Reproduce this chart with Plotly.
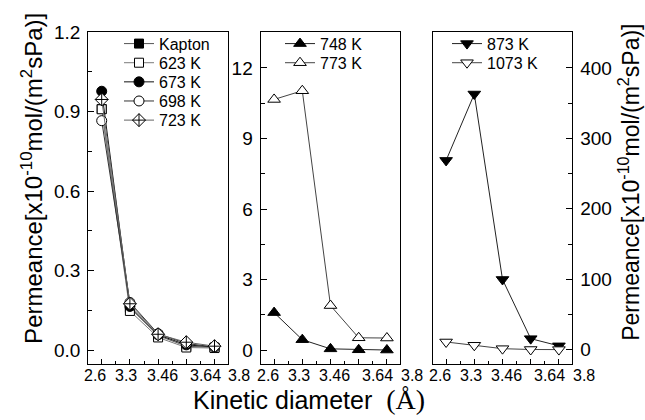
import plotly.graph_objects as go

# Gas order along the kinetic-diameter axis (He, CO2, O2, N2, CH4)
gas_pos = [1, 2, 3, 4, 5]
x_labels = ["2.6", "3.3", "3.46", "3.64", "3.8"]

# Permeance, x10^-10 mol/(m2 s Pa)
kapton = [0.910, 0.160, 0.055, 0.015, 0.010]
k623 = [0.909, 0.148, 0.048, 0.010, 0.008]
k673 = [0.977, 0.165, 0.058, 0.020, 0.012]
k698 = [0.866, 0.180, 0.062, 0.025, 0.012]
k723 = [0.946, 0.175, 0.060, 0.030, 0.015]
k748 = [1.60, 0.45, 0.06, 0.02, 0.01]
k773 = [10.66, 11.03, 1.90, 0.53, 0.52]
k873 = [268.7, 362.9, 99.7, 15.7, 5.5]
k1073 = [11.0, 6.3, 1.5, 0.3, 0.2]

W, H = 645, 420
FONT = "Arial, Liberation Sans, sans-serif"
SERIF = "Times New Roman, Liberation Serif, serif"


def fx(px):
    return px / W


def fy(py):
    return 1 - py / H


panel_left = [88.3, 260.7, 432.7]
panel_w = 139.5
unit = 28.2                  # pixels per gas step
x0 = 0.525
x1 = x0 + panel_w / unit
y_dom = [fy(362.3), fy(22.7)]
# the label row is set as one evenly spaced line of text under each panel
label_pos = [0.773, 1.87, 3.15, 4.67, 5.88]

fig = go.Figure()

series = [
    # name, values, panel, symbol, size, fill, line colour, legend y (px)
    ("Kapton", kapton, 1, "square", 9, "black", "#555555", 42.0),
    ("623 K", k623, 1, "square", 9, "white", "#7a7a7a", 61.6),
    ("673 K", k673, 1, "circle", 10, "black", "#111111", 81.2),
    ("698 K", k698, 1, "circle", 10, "white", "#333333", 100.8),
    ("723 K", k723, 1, "diamond-cross", 10, "white", "#666666", 120.4),
    ("748 K", k748, 2, "triangle-up", 11, "black", "#222222", 42.0),
    ("773 K", k773, 2, "triangle-up", 11, "white", "#444444", 61.6),
    ("873 K", k873, 3, "triangle-down", 11, "black", "#222222", 42.0),
    ("1073 K", k1073, 3, "triangle-down", 11, "white", "#444444", 61.6),
]

legend_x = [119.0, 280.0, 447.0]
legend_shift = -7.5
layout_legends = {}
for i, (name, vals, p, sym, size, fill, lc, ly) in enumerate(series):
    lg = "legend" if i == 0 else f"legend{i + 1}"
    sfx = "" if p == 1 else str(p)
    fig.add_trace(go.Scatter(
        x=gas_pos, y=vals, name=name, mode="lines+markers",
        xaxis="x" + sfx, yaxis="y" + sfx, legend=lg,
        line=dict(color=lc, width=1),
        marker=dict(symbol=sym, size=size, color=fill,
                    line=dict(color="black", width=1)),
        cliponaxis=False,
    ))
    layout_legends[lg] = dict(
        x=fx(legend_x[p - 1]), y=fy(ly + legend_shift),
        xanchor="left", yanchor="middle",
        bgcolor="rgba(0,0,0,0)", borderwidth=0,
        font=dict(family=FONT, size=16, color="black"),
    )

axis_common = dict(showline=True, linecolor="black", linewidth=1.3,
                   mirror=True, showgrid=False, zeroline=False)

y_specs = [
    dict(range=[-0.051, 1.2], tick0=0, dtick=0.3, tickformat=".1f",
         minor=dict(dtick=0.15, ticklen=4, ticks="inside", tickcolor="black"), side="left"),
    dict(range=[-0.57, 13.52], tick0=0, dtick=3,
         minor=dict(dtick=1.5, ticklen=4, ticks="inside", tickcolor="black"), side="left"),
    dict(range=[-19.8, 450.7], tick0=0, dtick=100,
         minor=dict(dtick=50, ticklen=4, ticks="inside", tickcolor="black"), side="right"),
]

layout_axes = {}
annotations = []
for k in range(3):
    sfx = "" if k == 0 else str(k + 1)
    left = panel_left[k]
    layout_axes["xaxis" + sfx] = dict(
        axis_common, domain=[fx(left), fx(left + panel_w)], range=[x0, x1],
        anchor="y" + sfx, tick0=1, dtick=1, ticks="inside", ticklen=5,
        tickcolor="black", showticklabels=False,
        minor=dict(dtick=0.5, ticklen=3, ticks="inside", tickcolor="black"),
    )
    layout_axes["yaxis" + sfx] = dict(
        axis_common, domain=y_dom, anchor="x" + sfx, ticks="inside",
        ticklen=6, tickcolor="black", ticklabelstandoff=3,
        tickfont=dict(family=FONT, size=19, color="black"), **y_specs[k],
    )
    for pos, lab in zip(label_pos, x_labels):
        annotations.append(dict(
            text=lab, x=fx(left + (pos - x0) * unit), y=fy(374),
            xref="paper", yref="paper", showarrow=False,
            xanchor="center", yanchor="middle",
            font=dict(family=FONT, size=16, color="black"),
        ))

title_txt = "Permeance[x10<sup>-10</sup>mol/(m<sup>2</sup>sPa)]"
annotations += [
    dict(text=title_txt, x=fx(32), y=fy(173), xref="paper", yref="paper",
         textangle=-90, showarrow=False, xanchor="center", yanchor="middle",
         font=dict(family=FONT, size=24, color="black")),
    dict(text=title_txt, x=fx(629), y=fy(177), xref="paper", yref="paper",
         textangle=-90, showarrow=False, xanchor="center", yanchor="middle",
         font=dict(family=FONT, size=23, color="black")),
    dict(text="Kinetic diameter\u00a0\u00a0<span style='font-family:" + SERIF
         + ";font-size:28px'>(Å)</span>",
         x=fx(309), y=fy(399), xref="paper", yref="paper", showarrow=False,
         xanchor="center", yanchor="middle",
         font=dict(family=FONT, size=25, color="black")),
]

fig.update_layout(
    width=W, height=H, autosize=False,
    margin=dict(l=0, r=0, t=0, b=0),
    paper_bgcolor="white", plot_bgcolor="rgba(0,0,0,0)",
    showlegend=True, annotations=annotations,
    font=dict(family=FONT, color="black"),
    **layout_axes, **layout_legends,
)

fig.write_html("out.html")
